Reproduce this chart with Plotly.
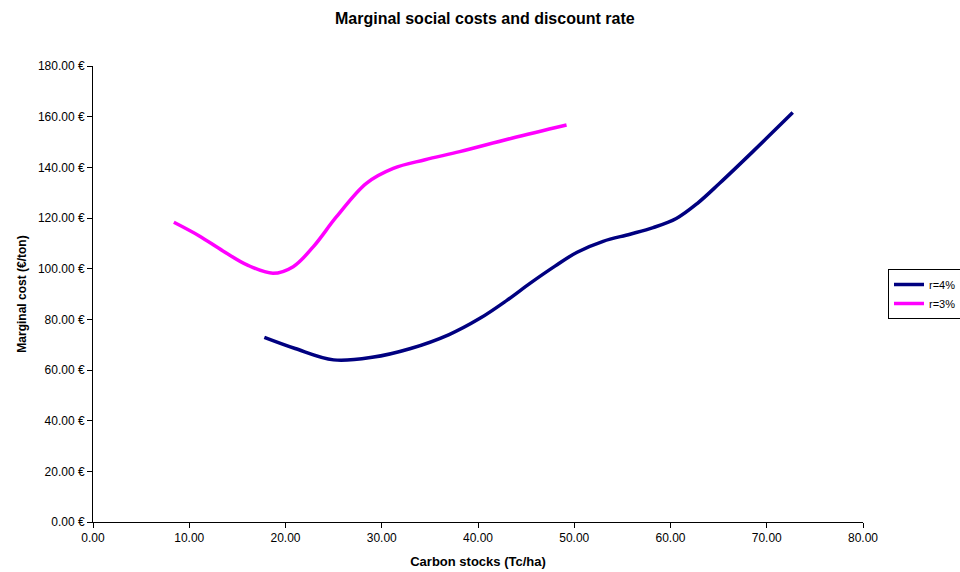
import plotly.graph_objects as go

# Carbon stocks (Tc/ha) and marginal social cost (€/ton) for each discount rate
carbon_r4 = [17.8, 21.0, 25.0, 29.0, 33.0, 37.0, 40.2, 43.0, 45.4, 48.0, 50.3, 53.0,
             55.8, 58.2, 60.6, 62.8, 65.1, 68.5, 72.7]
cost_r4 = [72.9, 68.5, 64.0, 65.0, 68.5, 74.0, 80.4, 87.5, 94.2, 101.0, 106.5, 110.8,
           113.6, 116.2, 119.8, 125.8, 133.7, 146.0, 161.6]

carbon_r3 = [8.4, 11.0, 13.5, 16.0, 18.7, 20.8, 22.9, 25.3, 28.4, 31.2, 34.5, 38.1, 43.5, 49.2]
cost_r3 = [118.3, 113.0, 107.0, 101.5, 98.2, 100.8, 108.7, 120.5, 133.7, 139.6, 143.0, 146.2,
           151.5, 156.7]

x_ticks = [0, 10, 20, 30, 40, 50, 60, 70, 80]
y_ticks = [0, 20, 40, 60, 80, 100, 120, 140, 160, 180]

FONT = "Liberation Sans, Arial, sans-serif"

fig = go.Figure()
fig.add_trace(go.Scatter(
    x=carbon_r4, y=cost_r4, mode="lines", name="r=4%",
    line=dict(color="#000080", width=3.5, shape="spline", smoothing=1.0),
))
fig.add_trace(go.Scatter(
    x=carbon_r3, y=cost_r3, mode="lines", name="r=3%",
    line=dict(color="#FF00FF", width=3.5, shape="spline", smoothing=1.0),
))

fig.update_layout(
    width=960, height=572,
    margin=dict(l=93, r=97, t=66, b=50, autoexpand=False),
    paper_bgcolor="white", plot_bgcolor="white",
    font=dict(family=FONT, size=12, color="black"),
    title=dict(text="<b>Marginal social costs and discount rate</b>",
               x=0.505, xanchor="center", y=0.978, yanchor="top",
               font=dict(family=FONT, size=16, color="black")),
    xaxis=dict(
        range=[0, 80], tickvals=x_ticks,
        ticktext=[f"{v:.2f}" for v in x_ticks],
        showline=True, linecolor="black", linewidth=1,
        ticks="outside", ticklen=5, tickcolor="black",
        showgrid=False, zeroline=False,
        tickfont=dict(size=12),
        title=dict(text="<b>Carbon stocks (Tc/ha)</b>", font=dict(size=13), standoff=12),
    ),
    yaxis=dict(
        range=[0, 180], tickvals=y_ticks,
        ticktext=[f"{v:.2f} €" for v in y_ticks],
        showline=True, linecolor="black", linewidth=1,
        ticks="outside", ticklen=5, tickcolor="black",
        showgrid=False, zeroline=False,
        tickfont=dict(size=12),
        title=dict(text="<b>Marginal cost (€/ton)</b>", font=dict(size=12), standoff=8),
    ),
    legend=dict(
        x=1.0325, y=0.5, xanchor="left", yanchor="middle",
        bordercolor="black", borderwidth=1, bgcolor="white",
        font=dict(size=11), itemwidth=30, tracegroupgap=0,
    ),
    showlegend=True,
)

fig.write_html("out.html")
